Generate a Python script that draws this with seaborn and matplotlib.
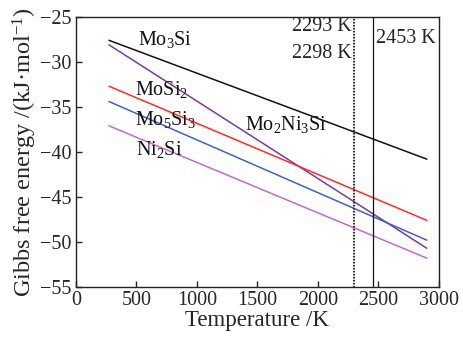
import matplotlib
matplotlib.use("Agg")
import matplotlib.pyplot as plt
import seaborn as sns
import pandas as pd

# Data: straight lines read at their end points
temps = [273, 2900]
mo3si = [-27.6, -40.8]
mo2ni3si = [-28.1, -50.7]
mosi2 = [-32.7, -47.6]
mo5si3 = [-34.4, -49.8]
ni2si = [-37.1, -51.8]

series_names = ["Mo3Si", "Mo2Ni3Si", "MoSi2", "Mo5Si3", "Ni2Si"]
series_vals = [mo3si, mo2ni3si, mosi2, mo5si3, ni2si]
colors = ["#111111", "#7b3a9c", "#ff2b2b", "#3b63c6", "#c06cc6"]

labels = [r"Mo$_3$Si", r"MoSi$_2$", r"Mo$_5$Si$_3$", r"Ni$_2$Si", r"Mo$_2$Ni$_3$Si"]
label_x = [510, 488, 488, 493, 1397]
label_y = [-28.1, -33.7, -37.0, -40.3, -37.6]

temp_marks = [2293, 2298, 2453]
temp_texts = ["2293 K", "2298 K", "2453 K"]

rows = []
for name, vals in zip(series_names, series_vals):
    for t, v in zip(temps, vals):
        rows.append({"T": t, "G": v, "phase": name})
df = pd.DataFrame(rows)

sns.set_theme(style="ticks")
plt.rcParams["font.family"] = ["Liberation Serif", "DejaVu Serif"]
plt.rcParams["mathtext.fontset"] = "custom"
plt.rcParams["mathtext.rm"] = "Liberation Serif"
plt.rcParams["mathtext.it"] = "Liberation Serif:italic"
plt.rcParams["mathtext.default"] = "regular"

fig = plt.figure(figsize=(4.63, 3.38), dpi=100)
ax = fig.add_axes([0.164, 0.151, 0.784, 0.799])

sns.lineplot(data=df, x="T", y="G", hue="phase", palette=dict(zip(series_names, colors)),
             ax=ax, legend=False, linewidth=1.1)

ax.axvline(temp_marks[0], color="#333333", linestyle=(0, (1.5, 1.2)), linewidth=0.8)
ax.axvline(temp_marks[1], color="#333333", linestyle=(0, (1.5, 1.2)), linewidth=0.8)
ax.axvline(temp_marks[2], color="#111111", linestyle="-", linewidth=0.9)

for txt, x, y in zip(labels, label_x, label_y):
    ax.text(x, y, txt, fontsize=14.5, ha="left", va="baseline", color="#111111")

ax.text(2280, -26.6, temp_texts[0], fontsize=14.5, ha="right", va="baseline")
ax.text(2280, -29.6, temp_texts[1], fontsize=14.5, ha="right", va="baseline")
ax.text(2477, -27.9, temp_texts[2], fontsize=14.5, ha="left", va="baseline")

ax.set_xlim(0, 3000)
ax.set_ylim(-55, -25)
ax.set_xticks([0, 500, 1000, 1500, 2000, 2500, 3000])
ax.set_yticks([-55, -50, -45, -40, -35, -30, -25])
ax.tick_params(direction="in", length=4, width=1, labelsize=14.5, pad=3)
for s in ax.spines.values():
    s.set_linewidth(1.0)
    s.set_color("#222222")
ax.set_xlabel("Temperature /K", fontsize=16.5, labelpad=0)
ax.set_ylabel("Gibbs free energy /(kJ\u00b7mol$^{-1}$)", fontsize=17.5, labelpad=1)

fig.savefig("out.png", dpi=100)
